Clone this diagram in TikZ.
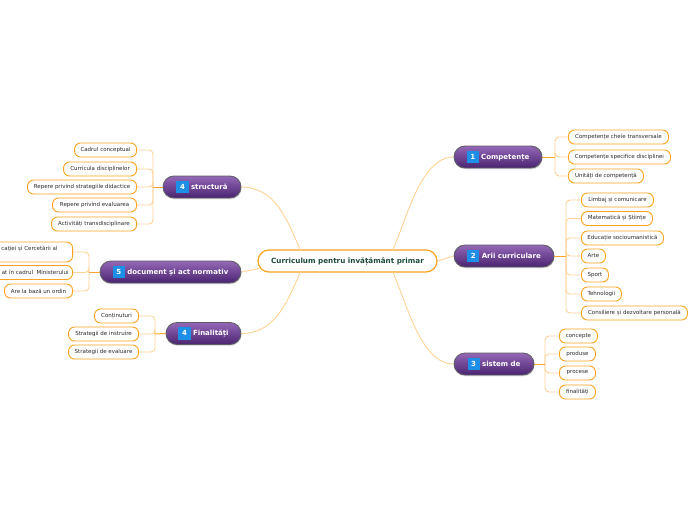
\documentclass[tikz,border=0pt]{standalone}
\usepackage{fontspec}
\setmainfont{DejaVu Sans}
\usetikzlibrary{calc,shadows}
\definecolor{orgB}{HTML}{F9A21E}
\definecolor{orgStem}{HTML}{F7A530}
\definecolor{orgLight}{HTML}{FFD395}
\definecolor{purpT}{HTML}{9468B6}
\definecolor{purpB}{HTML}{4A2470}
\definecolor{mainborder}{HTML}{5E5E66}
\definecolor{badgeblue}{HTML}{1E8FE6}
\definecolor{txtgray}{HTML}{2A2A2A}
\definecolor{roottxt}{HTML}{1E4A3C}
\newcommand\numbadge[1]{{\setlength\fboxsep{1.4pt}\colorbox{badgeblue}{\makebox[9.4pt][c]{\rule[-2.7pt]{0pt}{9.6pt}#1}}}}
\begin{document}
\begin{tikzpicture}[x=1pt,y=-1pt,
  childbox/.style={draw=orgB, line width=0.9pt, fill=white, rounded corners=6pt,
    minimum height=14pt, inner sep=2pt, text=txtgray, font=\fontsize{5.5}{6.8}\selectfont},
  rchild/.style={childbox, anchor=west},
  lchild/.style={childbox, anchor=east},
  mainbox/.style={draw=mainborder, line width=0.9pt, rounded corners=11pt,
    top color=purpT, bottom color=purpB, minimum height=22pt, inner sep=2pt,
    text=white, font=\fontsize{7}{8}\selectfont\bfseries,
    drop shadow={opacity=0.25, shadow xshift=0.6pt, shadow yshift=-1.4pt}},
  rootbox/.style={draw=orgB, line width=1.2pt, fill=white, rounded corners=11pt,
    minimum height=22pt, minimum width=179pt, inner sep=2pt, text=roottxt,
    font=\fontsize{7.2}{8}\selectfont\bfseries},
  stem/.style={draw=orgStem, line width=1pt},
  branch/.style={draw=orgLight, line width=0.9pt, rounded corners=4pt},
  link/.style={draw=orgLight, line width=0.9pt}]
\useasboundingbox (0,0) rectangle (696,520);

% root
\node[rootbox] (root) at (347.5,261) {Curriculum pentru învățământ primar};

% main topics
\node[mainbox, minimum width=88pt]  (c1) at (498,157)   {\numbadge{1} Competențe};
\node[mainbox, minimum width=100pt] (c2) at (504,256)   {\numbadge{2} Arii curriculare};
\node[mainbox, minimum width=80pt]  (c3) at (494,364)   {\numbadge{3} sistem de};
\node[mainbox, minimum width=78pt]  (l1) at (202,187)   {\numbadge{4} structură};
\node[mainbox, minimum width=141pt] (l2) at (170.5,272) {\numbadge{5} document și act normativ};
\node[mainbox, minimum width=75pt]  (l3) at (203.5,333.5) {\numbadge{4} Finalități};

% links root -> main
\coordinate (rNW) at ($(root.north)+(-47,1)$);
\coordinate (rNE) at ($(root.north)+(45,1)$);
\coordinate (rSW) at ($(root.south)+(-47,-1)$);
\coordinate (rSE) at ($(root.south)+(45,-1)$);
\coordinate (rW) at ($(root.west)+(3,7)$);
\draw[link] (rNW) .. controls (288,222) and (276,187) .. (l1.east);
\draw[link] (rW) .. controls (252,270) .. (l2.east);
\draw[link] (rSW) .. controls (288,300) and (276,333.5) .. (l3.east);
\draw[link] (rNE) .. controls (406,222) and (420,157) .. (c1.west);
\draw[link] (root.east) -- (c2.west);
\draw[link] (rSE) .. controls (406,300) and (420,364) .. (c3.west);

% Competente children
\node[rchild, minimum width=100pt] (a1) at (568,137) {Competențe cheie transversale};
\node[rchild, minimum width=102pt] (a2) at (568,157) {Competențe specifice disciplinei};
\node[rchild, minimum width=75pt]  (a3) at (568,176) {Unități de competență};
\coordinate (ta) at (555,157);
\foreach \k in {a1,a2,a3} {\draw[branch] (ta) |- (\k.west);}
\draw[stem] (c1.east) -- (ta);

% Arii curriculare children
\node[rchild, minimum width=72pt]  (b1) at (581,200)   {Limbaj și comunicare};
\node[rchild, minimum width=71pt]  (b2) at (581,218.5) {Matematică și Științe};
\node[rchild, minimum width=82pt]  (b3) at (581,238)   {Educație socioumanistică};
\node[rchild, minimum width=24pt]  (b4) at (581,256)   {Arte};
\node[rchild, minimum width=27pt]  (b5) at (581,275)   {Sport};
\node[rchild, minimum width=40pt]  (b6) at (581,294)   {Tehnologii};
\node[rchild, minimum width=106pt] (b7) at (581,313)   {Consiliere și dezvoltare personală};
\coordinate (tb) at (566,256);
\foreach \k in {b1,b2,b3,b4,b5,b6,b7} {\draw[branch] (tb) |- (\k.west);}
\draw[stem] (c2.east) -- (tb);

% sistem de children
\node[rchild, minimum width=38pt] (e1) at (559,336) {concepte};
\node[rchild, minimum width=36pt] (e2) at (559,354) {produse};
\node[rchild, minimum width=36pt] (e3) at (559,373) {procese};
\node[rchild, minimum width=36pt] (e4) at (559,392) {finalități};
\coordinate (te) at (545,364);
\foreach \k in {e1,e2,e3,e4} {\draw[branch] (te) |- (\k.west);}
\draw[stem] (c3.east) -- (te);

% structura children
\node[lchild, minimum width=62pt]  (s1) at (137,150) {Cadrul conceptual};
\node[lchild, minimum width=73pt]  (s2) at (137,169) {Curricula disciplinelor};
\node[lchild, minimum width=109pt] (s3) at (137,187) {Repere privind strategiile didactice};
\node[lchild, minimum width=84pt]  (s4) at (137,205) {Repere privind evaluarea};
\node[lchild, minimum width=85pt]  (s5) at (137,224) {Activități transdisciplinare};
\coordinate (ts) at (153,187);
\foreach \k in {s1,s2,s3,s4,s5} {\draw[branch] (ts) |- (\k.east);}
\draw[stem] (l1.west) -- (ts);

% document children
\node[lchild, minimum height=20pt, align=left] (d1) at (73,252)
  {\hspace*{22pt}cației și Cercetării al\hspace*{13pt}\\\mbox{}};
\node[lchild] (d2) at (73,272.5) {\hspace*{22pt}at în cadrul\ \ Ministerului\hspace*{2pt}};
\node[lchild, minimum width=68pt] (d3) at (73,291) {Are la bază un ordin};
\coordinate (td) at (89,272);
\foreach \k in {d1,d2,d3} {\draw[branch] (td) |- (\k.east);}
\draw[stem] (l2.west) -- (td);

% Finalitati children
\node[lchild, minimum width=44pt] (f1) at (139,316) {Conținuturi};
\node[lchild, minimum width=70pt] (f2) at (139,334) {Strategii de instruire};
\node[lchild, minimum width=70pt] (f3) at (139,352) {Strategii de evaluare};
\coordinate (tf) at (155,334);
\foreach \k in {f1,f2,f3} {\draw[branch] (tf) |- (\k.east);}
\draw[stem] (l3.west) -- (tf);
\end{tikzpicture}
\end{document}
